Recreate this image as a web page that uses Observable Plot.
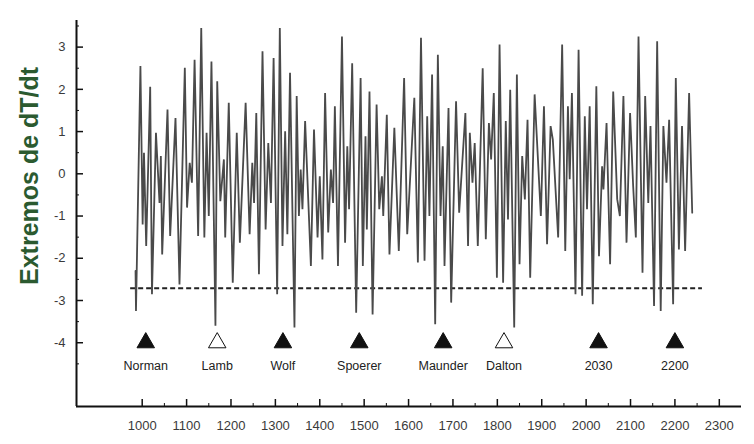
<!DOCTYPE html>
<html>
<head>
<meta charset="utf-8">
<script src="https://cdn.jsdelivr.net/npm/d3@7"></script>
<script src="https://cdn.jsdelivr.net/npm/@observablehq/plot@0.6"></script>
<style>
  html, body { margin: 0; padding: 0; background: #fff; }
</style>
</head>
<body>
<div id="chart"></div>
<script>
// ---- Data ----
const years = [
  985, 986, 996, 1001, 1004, 1009, 1018, 1022, 1031, 1039, 1042, 1045, 1057, 1063, 1075, 1084, 1096, 1101, 1107, 1112,
  1118, 1126, 1133, 1140, 1145, 1150, 1156, 1165, 1169, 1176, 1184, 1187, 1195, 1204, 1213, 1220,
  1233, 1242, 1248, 1252, 1257, 1263, 1271, 1278, 1284, 1290, 1296, 1304, 1310, 1316, 1322, 1327, 1333, 1343, 1348,
  1353, 1357, 1361, 1367, 1380, 1387, 1395, 1400, 1406, 1412, 1419, 1425, 1430, 1434, 1441, 1450, 1457, 1462, 1466,
  1473, 1482, 1492, 1497,
  1503, 1506, 1512, 1519, 1528, 1534, 1540, 1543, 1551, 1557, 1568, 1578, 1590, 1597, 1613, 1621, 1628, 1636, 1642,
  1647, 1653, 1660, 1666, 1672, 1677, 1681, 1690, 1696, 1707, 1714, 1728, 1734, 1738, 1744, 1749, 1756, 1767,
  1774, 1781, 1786, 1792, 1799, 1805, 1813, 1819, 1824, 1829, 1838, 1844, 1850, 1856, 1862, 1868, 1874, 1884, 1898,
  1905, 1912, 1920, 1925, 1937, 1946, 1953, 1959, 1963, 1968, 1976, 1983, 1991, 1997, 2002, 2008, 2015, 2023, 2029,
  2036, 2039, 2046, 2054, 2061, 2070, 2076, 2084, 2091, 2099, 2106, 2112, 2118, 2127, 2133, 2140, 2145, 2153, 2160,
  2168, 2174, 2181, 2187, 2196, 2202, 2209, 2216, 2223, 2232, 2239
];
const values = [
  -2.3, -3.25, 2.55, -1.2, 0.5, -1.71, 2.06, -2.85, 0.97, -0.69, 0.42, -1.91, 1.52, -1.47, 1.32, -2.62, 2.51, -0.8, 0.26, -0.21,
  2.70, -1.47, 3.45, -1.51, 0.97, -1.0, 2.66, -3.6, 2.19, -0.65, 0.34, -1.51, 1.68, -2.58, 0.97, -1.63,
  1.68, -1.43, 0.26, -0.69, 1.44, -2.38, 2.9, -1.32, 0.73, -0.69, 2.74, -2.85, 3.45, -1.71, 1.01, -1.43, 2.39, -3.64, 1.84,
  -1.0, 0.1, -0.84, 1.25, -2.18, 1.05, -1.51, -0.06, -2.03, 1.91, -1.39, 0.1, -0.69, 1.6, -2.18, 3.25, -1.63, 0.65, -0.84,
  2.62, -3.29, 2.27, -2.18,
  0.89, -1.32, 1.95, -3.33, 1.64, -0.84, -0.06, -1.0, 1.40, -1.91, 1.09, -1.83, 2.27, -1.43, 1.8, -2.10, 3.22, -2.06, 1.36,
  -1.0, 2.35, -3.56, 2.82, -1.0, 0.65, -2.18, 1.56, -3.05, 1.72, -0.92, 1.44, -1.71, 0.97, -0.21, 0.73, -1.71, 2.5,
  -1.55, 1.2, 0.34, 1.91, -2.46, 3.06, -2.58, 1.25, -1.08, 1.99, -3.64, 2.35, -2.14, 0.42, -0.61, 1.28, -2.46, 1.88, -1.0,
  1.6, -1.67, 1.13, 0.81, -1.51, 3.06, -1.83, 1.6, -0.13, 1.91, -2.85, 2.94, -2.89, 1.36, -0.84, 1.6, -3.09, 2.07, -1.95,
  0.18, -0.37, 1.2, -2.14, 1.95, -0.6, -1.0, 1.84, -1.63, 1.44, -0.3, -1.51, 3.25, -2.34, 1.84, -0.69, 1.13, -3.13, 3.14,
  -3.25, 1.13, -0.21, 1.28, -3.09, 2.27, -1.79, 1.13, -1.83, 1.91, -0.92
];
const threshold = -2.71;
const thresholdStart = 974;
const thresholdEnd = 2262;

const eventNames = ["Norman", "Lamb", "Wolf", "Spoerer", "Maunder", "Dalton", "2030", "2200"];
const eventYears = [1008, 1169, 1317, 1489, 1678, 1815, 2028, 2200];
const eventFilled = [true, false, true, true, true, false, true, true];
const eventLevel = -4;

const xTickLabels = [1000, 1100, 1200, 1300, 1400, 1500, 1600, 1700, 1800, 1900, 2000, 2100, 2200, 2300];
const xMinorTicks = [1050, 1150, 1250, 1350, 1450, 1550, 1650, 1750, 1850, 1950, 2050, 2150, 2250];
const yTickLabels = [3, 2, 1, 0, -1, -2, -3, -4];
const yMinorTicks = [3.5, 2.5, 1.5, 0.5, -0.5, -1.5, -2.5, -3.5, -4.5];
const yTitle = "Extremos de dT/dt";

// ---- Build tables ----
const series = years.map((y, i) => ({year: y, value: values[i]}));
const events = eventNames.map((n, i) => ({name: n, year: eventYears[i], filled: eventFilled[i]}));

const xDomain = [852, 2350];
const yDomain = [-5.51, 3.63];
const W = 754, H = 444, mL = 76, mR = 13, mT = 20, mB = 38;
const pxX = (xDomain[1] - xDomain[0]) / (W - mL - mR); // years per pixel
const pxY = (yDomain[1] - yDomain[0]) / (H - mT - mB); // units per pixel

const axisColor = "#111";
const labelColor = "#3a3a3a";
const font = "'Liberation Sans', Arial, sans-serif";

const chart = Plot.plot({
  width: W,
  height: H,
  marginLeft: mL,
  marginRight: mR,
  marginTop: mT,
  marginBottom: mB,
  x: {domain: xDomain, axis: null},
  y: {domain: yDomain, axis: null},
  style: {fontFamily: font, background: "#fff"},
  marks: [
    // threshold
    Plot.ruleY([threshold], {x1: thresholdStart, x2: thresholdEnd, stroke: "#222", strokeWidth: 2, strokeDasharray: "5,3"}),
    // series
    Plot.line(series, {x: "year", y: "value", stroke: "#4a4a4a", strokeWidth: 1.8, strokeLinejoin: "miter", strokeMiterlimit: 2}),
    // axes lines
    Plot.ruleX([xDomain[0]], {y1: yDomain[0], y2: yDomain[1], stroke: axisColor, strokeWidth: 2}),
    Plot.ruleY([yDomain[0]], {x1: xDomain[0], x2: xDomain[1], stroke: axisColor, strokeWidth: 2}),
    // y ticks (inward)
    Plot.ruleY(yTickLabels, {y: d => d, x1: xDomain[0], x2: xDomain[0] + 7 * pxX, stroke: axisColor, strokeWidth: 1.5}),
    Plot.ruleY(yMinorTicks, {y: d => d, x1: xDomain[0], x2: xDomain[0] + 3 * pxX, stroke: axisColor, strokeWidth: 1}),
    // x ticks (inward)
    Plot.ruleX(xTickLabels, {x: d => d, y1: yDomain[0], y2: yDomain[0] + 7 * pxY, stroke: axisColor, strokeWidth: 1.5}),
    Plot.ruleX(xMinorTicks, {x: d => d, y1: yDomain[0], y2: yDomain[0] + 3 * pxY, stroke: axisColor, strokeWidth: 1}),
    // tick labels
    Plot.text(yTickLabels, {x: xDomain[0], y: d => d, text: d => String(d), dx: -11, textAnchor: "end", fontSize: 13, fill: labelColor}),
    Plot.text(xTickLabels, {x: d => d, y: yDomain[0], text: d => String(d), dy: 19, fontSize: 13, fill: labelColor}),
    // events
    Plot.dot(events, {x: "year", y: eventLevel, symbol: "triangle", r: 6.5, fill: d => d.filled ? "#111" : "#fff", stroke: "#111", strokeWidth: 1}),
    Plot.text(events, {x: "year", y: eventLevel, text: "name", dy: 23, fontSize: 12.5, fill: "#222"}),
    // y title
    Plot.text([yTitle], {x: xDomain[0], y: -0.05, text: d => d, dx: -47, rotate: -90, fontSize: 25, fontWeight: "bold", fill: "#2b5a30"})
  ]
});
document.getElementById("chart").appendChild(chart);
</script>
</body>
</html>
